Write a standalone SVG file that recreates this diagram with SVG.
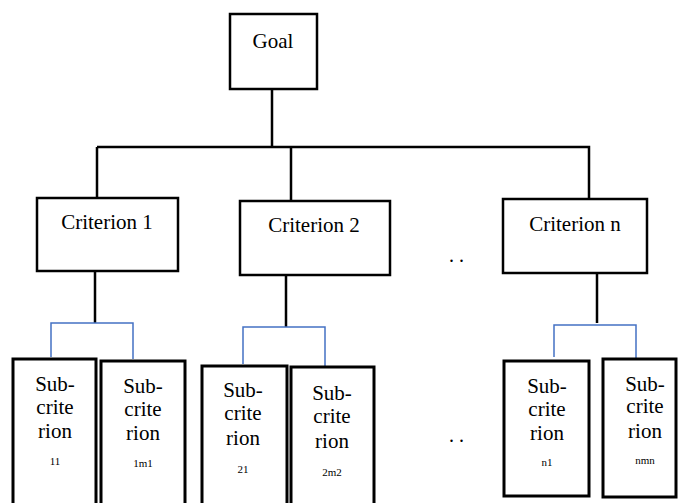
<svg xmlns="http://www.w3.org/2000/svg" width="678" height="503" viewBox="0 0 678 503">
<style>
.box{fill:#fff;stroke:#000;stroke-width:2.5}
.sub{fill:#fff;stroke:#000;stroke-width:3}
.blk{fill:none;stroke:#000;stroke-width:2.5}
.blue{fill:none;stroke:#4472C4;stroke-width:1.5}
text{fill:#000;text-anchor:middle}
.t{font-size:21px}
.s{font-size:21px}
.n{font-size:11px}
.d{font-size:20px;letter-spacing:5px}
</style>
<rect width="678" height="503" fill="#fff"/>
<g id="connectors">
<path class="blk" d="M272,89 V147 M97,147 H589 V199 M97,147 V198 M291,147 V201"/>
<path class="blk" d="M95,271 V323 M286,275 V327 M597,273 V323"/>
<path class="blue" d="M51,357 V323 H133 V359"/>
<path class="blue" d="M243,364 V327 H325 V366"/>
<path class="blue" d="M554,357 V325 H636 V360"/>
</g>
<g font-family="'Liberation Serif', 'DejaVu Serif', 'Times New Roman', serif">
<g id="goal"><rect class="box" x="230" y="14" width="87" height="75"/><text class="t" x="273" y="48">Goal</text></g>
<g id="criterion1"><rect class="box" x="37" y="198" width="141" height="73"/><text class="t" x="107" y="229">Criterion 1</text></g>
<g id="criterion2"><rect class="box" x="240" y="201" width="150" height="74"/><text class="t" x="314" y="232">Criterion 2</text></g>
<g id="criterionn"><rect class="box" x="503" y="199" width="144" height="74"/><text class="t" x="575" y="231">Criterion n</text></g>
<g id="dots1"><text class="d" x="459" y="262">..</text></g>
<g id="dots2"><text class="d" x="459" y="442">..</text></g>
<g id="sub11"><rect class="sub" x="13" y="359" width="83" height="150"/>
<text class="s" x="55" y="391">Sub-</text><text class="s" x="55" y="414">crite</text><text class="s" x="55" y="438">rion</text><text class="n" x="55" y="465">11</text></g>
<g id="sub1m1"><rect class="sub" x="101" y="361" width="84" height="150"/>
<text class="s" x="143" y="393">Sub-</text><text class="s" x="143" y="416">crite</text><text class="s" x="143" y="440">rion</text><text class="n" x="143" y="467">1m1</text></g>
<g id="sub21"><rect class="sub" x="202" y="366" width="85" height="150"/>
<text class="s" x="243" y="397">Sub-</text><text class="s" x="243" y="420">crite</text><text class="s" x="243" y="445">rion</text><text class="n" x="243" y="473">21</text></g>
<g id="sub2m2"><rect class="sub" x="291" y="367" width="83" height="150"/>
<text class="s" x="332" y="400">Sub-</text><text class="s" x="332" y="423">crite</text><text class="s" x="332" y="448">rion</text><text class="n" x="332" y="476">2m2</text></g>
<g id="subn1"><rect class="sub" x="504" y="361" width="85" height="135"/>
<text class="s" x="547" y="393">Sub-</text><text class="s" x="547" y="416">crite</text><text class="s" x="547" y="440">rion</text><text class="n" x="547" y="466">n1</text></g>
<g id="subnmn"><rect class="sub" x="603" y="359" width="73" height="138"/>
<text class="s" x="645" y="391">Sub-</text><text class="s" x="645" y="413">crite</text><text class="s" x="645" y="438">rion</text><text class="n" x="645" y="464">nmn</text></g>
</g>
</svg>
